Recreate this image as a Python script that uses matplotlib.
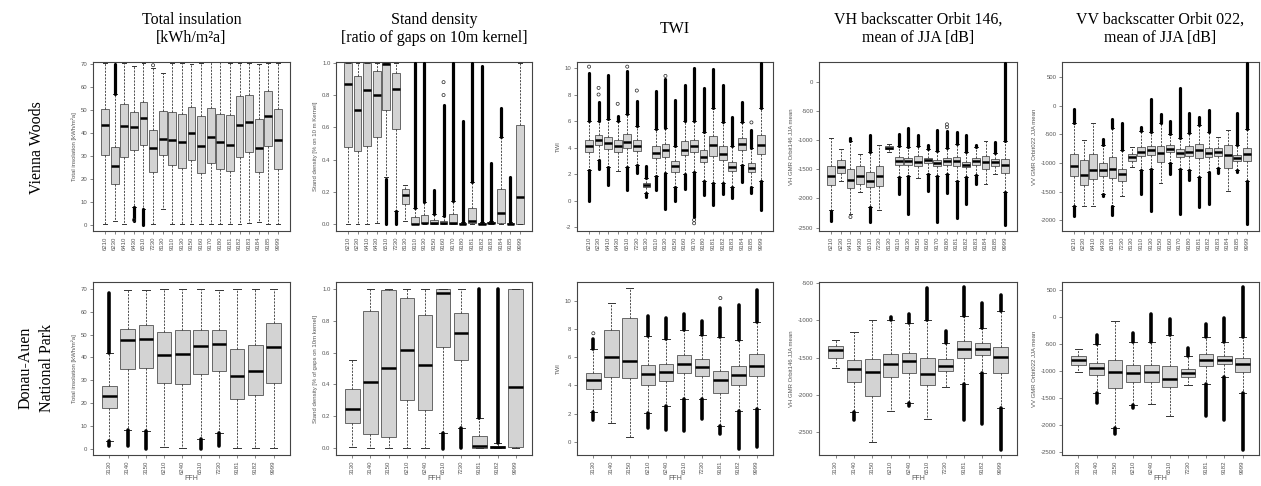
import matplotlib.pyplot as plt
import numpy as np

plt.rcParams["axes.unicode_minus"] = False

# habitat codes (FFH)
vw_codes = ["6210", "6230", "6410", "6430", "6510", "7230", "8130", "9110", "9130", "9150",
            "9160", "9170", "9180", "9181", "9182", "9183", "9184", "9185", "9999"]
dn_codes = ["3130", "3140", "3150", "6210", "6240", "6510", "7230", "9181", "9182", "9999"]

# box stats: (whisker low, q1, median, q3, whisker high)
# outlier runs: (box number, low, high), single outliers: (box number, value)
vw_insol = [(0.5, 30.7, 43.5, 50.7, 70.5), (2.0, 17.7, 25.9, 34.1, 57.0), (0.5, 29.5, 43.0, 52.5, 70.5),
            (8.0, 32.5, 42.5, 49.0, 69.0), (7.0, 35.0, 46.5, 53.5, 70.5), (0.5, 23.0, 33.5, 41.5, 68.5),
            (7.0, 30.5, 37.5, 49.5, 66.0), (0.5, 26.0, 37.0, 49.0, 70.5), (0.5, 25.0, 36.0, 48.5, 70.5),
            (0.5, 28.5, 40.0, 51.5, 70.0), (0.5, 22.5, 34.5, 47.5, 70.5), (0.5, 27.0, 38.5, 51.0, 71.0),
            (0.5, 24.5, 36.0, 48.5, 71.0), (0.5, 23.5, 35.0, 48.0, 70.5), (0.5, 29.5, 43.5, 56.0, 70.5),
            (1.0, 32.0, 45.0, 56.5, 70.5), (1.5, 23.0, 33.5, 46.0, 70.0), (0.5, 34.5, 47.5, 58.5, 70.5),
            (0.5, 24.5, 37.0, 50.5, 70.5)]
vw_insol_runs = [(2, 57.0, 70.0), (4, 2.0, 8.0), (5, 0.0, 7.0)]
vw_insol_pts = [(6, 69.5), (4, 2.3)]

vw_dens = [(0, 0.48, 0.87, 1.0, 1.0), (0, 0.455, 0.71, 0.92, 1.0), (0, 0.485, 0.83, 1.0, 1.0),
           (0.005, 0.54, 0.80, 0.95, 1.0), (0.29, 0.71, 0.99, 1.0, 1.0), (0.08, 0.59, 0.84, 0.935, 1.0),
           (0.02, 0.125, 0.18, 0.22, 0.24), (0, 0.0, 0.0, 0.045, 0.10), (0, 0.005, 0.005, 0.055, 0.135),
           (0, 0.0, 0.005, 0.025, 0.06), (0, 0.0, 0.005, 0.02, 0.05), (0, 0.0, 0.005, 0.06, 0.14),
           (0, 0.0, 0.0, 0.005, 0.01), (0, 0.005, 0.02, 0.10, 0.26), (0, 0.0, 0.0, 0.005, 0.01),
           (0, 0.005, 0.005, 0.01, 0.02), (0, 0.005, 0.07, 0.22, 0.54), (0, 0.0, 0.0, 0.005, 0.01),
           (0, 0.0, 0.165, 0.615, 1.0)]
vw_dens_runs = [(5, 0.0, 0.28), (6, 0.0, 0.08), (8, 0.10, 1.0), (9, 0.135, 1.0), (10, 0.06, 0.21),
                (11, 0.05, 0.74), (12, 0.14, 1.0), (13, 0.01, 0.64), (14, 0.26, 1.0), (15, 0.01, 0.98),
                (16, 0.02, 0.38), (17, 0.54, 0.72), (18, 0.01, 0.29)]
vw_dens_pts = [(11, 0.80), (11, 0.88)]

vw_twi = [(2.3, 3.65, 4.1, 4.6, 6.0), (3.05, 4.2, 4.55, 4.95, 6.0), (2.55, 3.9, 4.35, 4.8, 6.15),
          (2.25, 3.65, 4.15, 4.55, 6.0), (2.55, 4.0, 4.45, 5.05, 6.5), (2.7, 3.75, 4.1, 4.55, 5.6),
          (0.6, 1.0, 1.15, 1.3, 1.7), (1.9, 3.2, 3.6, 4.1, 5.4), (2.1, 3.3, 3.8, 4.3, 5.5),
          (1.0, 2.2, 2.6, 3.0, 4.1), (2.0, 3.45, 3.85, 4.5, 6.0), (2.2, 3.65, 4.1, 4.6, 6.0),
          (1.5, 2.95, 3.3, 3.8, 5.2), (1.3, 3.4, 4.2, 4.9, 7.0), (1.3, 3.05, 3.55, 4.1, 5.9),
          (1.0, 2.25, 2.55, 2.95, 4.1), (2.7, 3.85, 4.25, 4.7, 5.9), (1.0, 2.15, 2.45, 2.85, 3.95),
          (1.5, 3.55, 4.2, 4.95, 7.0)]
vw_twi_runs = [(1, 6.0, 9.6), (1, 0.0, 2.3), (2, 6.0, 7.4), (2, 2.4, 3.05), (3, 6.15, 9.5), (3, 1.15, 2.55),
               (4, 6.0, 6.4), (5, 6.5, 9.8), (5, 0.8, 2.55), (6, 5.6, 7.5), (6, 2.1, 2.7), (7, 1.7, 2.6),
               (7, 0.3, 0.6), (8, 5.4, 8.3), (8, 0.8, 1.9), (9, 5.5, 9.2), (9, -0.6, 2.1), (10, 4.1, 7.6),
               (10, 0.0, 1.0), (11, 6.0, 8.7), (11, 0.9, 2.0), (12, 6.0, 10.0), (12, -1.2, 2.2),
               (13, 5.2, 8.5), (13, 0.4, 1.5), (14, 7.0, 9.9), (14, -0.3, 1.3), (15, 5.9, 8.7),
               (15, 0.5, 1.3), (16, 4.1, 6.3), (16, 0.2, 1.0), (17, 5.9, 7.4), (17, 1.4, 2.7),
               (18, 3.95, 5.3), (18, 0.6, 1.0), (19, 7.0, 10.4), (19, -0.7, 1.5)]
vw_twi_pts = [(1, 10.1), (2, 8.0), (2, 8.5), (4, 7.3), (5, 10.1), (6, 8.3), (9, 9.4), (12, -1.45),
              (12, -1.7), (18, 5.9)]

vw_vh = [(-2200, -1770, -1620, -1450, -970), (-1700, -1560, -1460, -1340, -1150),
         (-2270, -1830, -1680, -1500, -1010), (-1890, -1760, -1620, -1450, -1240),
         (-2150, -1800, -1700, -1550, -1200), (-2200, -1790, -1620, -1450, -1090),
         (-1210, -1160, -1130, -1110, -1070), (-1630, -1430, -1360, -1290, -1100),
         (-1610, -1420, -1360, -1310, -1120), (-1650, -1440, -1380, -1280, -1100),
         (-1590, -1400, -1350, -1300, -1150), (-1610, -1450, -1400, -1350, -1180),
         (-1590, -1420, -1360, -1300, -1140), (-1700, -1450, -1360, -1290, -1060),
         (-1640, -1460, -1420, -1370, -1200), (-1600, -1430, -1360, -1300, -1120),
         (-1750, -1500, -1370, -1280, -1010), (-1590, -1440, -1380, -1330, -1230),
         (-1890, -1560, -1430, -1330, -1020)]
vw_vh_runs = [(1, -2380, -2220), (3, -1010, -960), (5, -2400, -2150), (5, -1200, -920), (8, -1920, -1630),
              (8, -1100, -900), (9, -2260, -1610), (9, -1120, -790), (10, -1100, -920), (11, -1880, -1590),
              (11, -1150, -1090), (12, -2400, -1610), (12, -1180, -830), (13, -1910, -1590),
              (13, -1140, -850), (14, -2330, -1700), (14, -1060, -860), (15, -2100, -1640),
              (15, -1200, -910), (16, -1760, -1600), (16, -1120, -1090), (18, -1230, -1040),
              (19, -2450, -1890), (19, -1020, 330)]
vw_vh_pts = [(3, -2320), (13, -730), (13, -780)]

vw_vv = [(-1750, -1230, -1050, -840, -300), (-1750, -1390, -1210, -940, -590),
         (-1750, -1280, -1120, -850, -300), (-1530, -1220, -1120, -1000, -680),
         (-1740, -1260, -1110, -900, -390), (-1580, -1310, -1190, -1100, -780),
         (-1060, -960, -900, -850, -720), (-1120, -880, -800, -720, -450),
         (-1100, -860, -780, -710, -460), (-1350, -980, -830, -710, -300),
         (-1000, -800, -750, -680, -490), (-1100, -900, -830, -760, -560),
         (-1120, -870, -800, -700, -470), (-1240, -920, -780, -660, -330),
         (-1160, -900, -820, -730, -460), (-1080, -880, -800, -730, -540),
         (-1490, -1080, -860, -690, -430), (-1120, -960, -910, -860, -690),
         (-1310, -970, -840, -740, -400)]
vw_vv_runs = [(1, -1920, -1750), (1, -300, -50), (4, -1580, -1530), (4, -680, -580), (5, -1900, -1740),
              (5, -390, -240), (6, -780, -300), (8, -1540, -1120), (8, -450, -370), (9, -1830, -1100),
              (9, -460, 120), (10, -300, -140), (11, -1190, -1000), (11, -490, -260), (12, -1880, -1100),
              (12, -560, 300), (13, -1290, -1120), (13, -470, -120), (14, -1760, -1240), (14, -330, -190),
              (15, -1720, -1160), (15, -460, -80), (16, -1180, -1080), (18, -1150, -1120),
              (18, -690, -120), (19, -2060, -1310), (19, -400, 740)]
vw_vv_pts = []

dn_insol = [(3.5, 18.0, 23.0, 27.7, 42.0), (8.5, 35.0, 47.5, 52.5, 69.5), (8.0, 35.5, 48.0, 54.0, 69.5),
            (1.0, 29.0, 41.0, 51.0, 70.0), (0.5, 28.5, 41.5, 52.0, 70.0), (4.5, 33.0, 45.0, 52.0, 70.0),
            (7.0, 34.0, 46.0, 52.0, 69.5), (0.5, 22.0, 32.0, 43.5, 70.0), (0.5, 23.5, 34.0, 45.5, 70.0),
            (0.5, 29.0, 44.5, 55.0, 70.0)]
dn_insol_runs = [(1, 42.0, 68.0), (1, 1.5, 3.5), (2, 1.5, 8.5), (3, 0.0, 8.0), (6, 0.0, 4.5), (7, 1.5, 7.0)]
dn_insol_pts = []

dn_dens = [(0.01, 0.16, 0.245, 0.37, 0.555), (0, 0.09, 0.415, 0.86, 1.0), (0, 0.07, 0.505, 0.995, 1.0),
           (0, 0.305, 0.615, 0.94, 1.0), (0, 0.24, 0.525, 0.835, 1.0), (0.095, 0.635, 0.97, 1.0, 1.0),
           (0.13, 0.555, 0.72, 0.85, 1.0), (0, 0.0, 0.015, 0.075, 0.19), (0, 0.0, 0.005, 0.015, 0.035),
           (0, 0.01, 0.385, 1.0, 1.0)]
dn_dens_runs = [(6, -0.005, 0.095), (7, 0.0, 0.13), (8, 0.19, 1.0), (9, 0.035, 1.0)]
dn_dens_pts = []

dn_twi = [(2.1, 3.75, 4.4, 4.9, 6.55), (1.35, 4.6, 6.0, 7.95, 9.85), (0.35, 4.55, 5.7, 8.75, 10.9),
          (2.05, 4.05, 4.8, 5.45, 7.5), (2.55, 4.3, 4.95, 5.55, 7.3), (3.05, 4.85, 5.55, 6.15, 7.95),
          (3.0, 4.7, 5.3, 5.85, 7.6), (1.15, 3.45, 4.35, 5.05, 7.45), (2.15, 4.05, 4.75, 5.4, 7.25),
          (2.35, 4.7, 5.4, 6.25, 8.5)]
dn_twi_runs = [(1, 6.55, 7.3), (1, 1.55, 2.1), (4, 7.5, 8.9), (4, 1.0, 2.05), (5, 7.3, 8.8), (5, 0.85, 2.55),
               (6, 7.95, 9.1), (6, 0.75, 3.05), (7, 7.6, 8.6), (7, 1.65, 3.0), (8, 7.45, 9.5),
               (8, 0.55, 1.15), (9, 7.25, 9.7), (9, -0.5, 2.15), (10, 8.5, 10.8), (10, -0.4, 2.35)]
dn_twi_pts = [(1, 7.7), (8, 10.2)]

dn_vh = [(-1640, -1510, -1400, -1340, -1260), (-2230, -1830, -1650, -1530, -1150),
         (-2630, -2010, -1690, -1520, -1000), (-2220, -1760, -1580, -1450, -990),
         (-2110, -1710, -1540, -1440, -1030), (-2320, -1860, -1720, -1500, -990),
         (-1890, -1680, -1610, -1520, -1300), (-1850, -1510, -1380, -1280, -940),
         (-1700, -1470, -1390, -1310, -1100), (-2170, -1700, -1490, -1360, -880)]
dn_vh_runs = [(2, -2330, -2230), (4, -990, -960), (5, -2150, -2110), (5, -1030, -910), (6, -990, -570),
              (7, -1300, -1140), (8, -2340, -1850), (8, -940, -560), (9, -2390, -1700), (9, -1100, -770),
              (10, -2730, -2170), (10, -880, -660)]
dn_vh_pts = []

dn_vv = [(-1020, -880, -790, -710, -580), (-1400, -1060, -930, -840, -500),
         (-2050, -1310, -1010, -800, -70), (-1630, -1200, -1030, -880, -450),
         (-1610, -1200, -1010, -880, -450), (-1830, -1290, -1140, -900, -330),
         (-1250, -1110, -1040, -950, -720), (-1230, -910, -790, -680, -360),
         (-1100, -860, -790, -710, -460), (-1400, -1010, -860, -750, -360)]
dn_vv_runs = [(2, -1590, -1400), (2, -500, -320), (3, -2170, -2050), (4, -1680, -1630), (4, -450, -290),
              (5, -450, 60), (6, -330, -40), (7, -720, -570), (8, -1820, -1230), (8, -360, -120),
              (9, -1900, -1100), (9, -460, -10), (10, -2460, -1400), (10, -360, 560)]
dn_vv_pts = []

col_titles = ["Total insulation\n[kWh/m\u00b2a]", "Stand density\n[ratio of gaps on 10m kernel]", "TWI",
              "VH backscatter Orbit 146,\nmean of JJA [dB]", "VV backscatter Orbit 022,\nmean of JJA [dB]"]
row_titles = ["Vienna Woods", "Donau-Auen\nNational Park"]
vw_ylabels = ["Total insolation [kWh/m\u00b2a]", "Stand density [% on 10 m Kernel]", "TWI",
              "VH GMR Orbit146 JJA mean", "VV GMR Orbit022 JJA mean"]
dn_ylabels = ["Total insolation [kWh/m\u00b2a]", "Stand density [% of gaps on 10m kernel]", "TWI",
              "VH GMR Orbit146 JJA mean", "VV GMR Orbit022 JJA mean"]

W, H = 1261, 486
col_left = [93, 336, 577, 819, 1062]
col_width = [197, 196, 196, 198, 197]
row_top = [62, 282]
row_bottom = [231, 455]

TICK_FONT = "Liberation Sans"
GRAY = "#555555"


def draw_panel(ax, codes, stats, runs, pts, ylim, yticks, ylabel, yfmt="%g", xlabel=None, run_lw=2.6):
    n = len(codes)
    bstats = [dict(whislo=s[0], q1=s[1], med=s[2], q3=s[3], whishi=s[4], fliers=[], label=c)
              for c, s in zip(codes, stats)]
    ax.bxp(bstats, positions=np.arange(1, n + 1), widths=0.8, patch_artist=True, showfliers=False,
           capwidths=0.4,
           boxprops=dict(facecolor="#d3d3d3", edgecolor="#666666", linewidth=0.7),
           medianprops=dict(color="black", linewidth=1.8, solid_capstyle="butt"),
           whiskerprops=dict(color="#333333", linewidth=0.6, linestyle=(0, (2.5, 1.5))),
           capprops=dict(color="#333333", linewidth=0.7))
    if runs:
        rx = [r[0] for r in runs]
        ax.vlines(rx, [r[1] for r in runs], [r[2] for r in runs], color="black",
                  linewidth=run_lw, capstyle="round", zorder=3)
    if pts:
        ax.scatter([p[0] for p in pts], [p[1] for p in pts], s=5, facecolors="none",
                   edgecolors="#222222", linewidths=0.5, zorder=3)
    ax.set_xlim(0.5 - 0.04 * n, n + 0.5 + 0.04 * n)
    ax.set_ylim(*ylim)
    ax.set_xticks(np.arange(1, n + 1))
    ax.set_xticklabels(codes, rotation=90, fontsize=4.3, family=TICK_FONT, color=GRAY)
    ax.set_yticks(yticks)
    ax.set_yticklabels([yfmt % t for t in yticks], fontsize=4.3, family=TICK_FONT, color=GRAY)
    ax.tick_params(length=2, width=0.5, colors=GRAY, pad=2)
    ax.set_ylabel(ylabel, fontsize=4.3, family=TICK_FONT, color=GRAY, labelpad=3)
    if xlabel:
        ax.set_xlabel(xlabel, fontsize=5, family=TICK_FONT, color=GRAY, labelpad=1)
    for sp in ax.spines.values():
        sp.set_color("#444444")
        sp.set_linewidth(0.8)


fig = plt.figure(figsize=(W / 100, H / 100), dpi=100)


def add_ax(r, c):
    return fig.add_axes([col_left[c] / W, 1 - row_bottom[r] / H,
                         col_width[c] / W, (row_bottom[r] - row_top[r]) / H])


vw_data = [(vw_insol, vw_insol_runs, vw_insol_pts, (-2.5, 70.9), np.arange(0, 71, 10), "%g"),
           (vw_dens, vw_dens_runs, vw_dens_pts, (-0.043, 1.005), np.arange(0, 1.01, 0.2), "%.1f"),
           (vw_twi, vw_twi_runs, vw_twi_pts, (-2.28, 10.45), np.arange(-2, 11, 2), "%g"),
           (vw_vh, vw_vh_runs, vw_vh_pts, (-2560, 340), np.arange(-2500, 1, 500), "%g"),
           (vw_vv, vw_vv_runs, vw_vv_pts, (-2183, 760), np.arange(-2000, 501, 500), "%g")]
dn_data = [(dn_insol, dn_insol_runs, dn_insol_pts, (-2.5, 72.9), np.arange(0, 71, 10), "%g"),
           (dn_dens, dn_dens_runs, dn_dens_pts, (-0.042, 1.042), np.arange(0, 1.01, 0.2), "%.1f"),
           (dn_twi, dn_twi_runs, dn_twi_pts, (-0.94, 11.34), np.arange(0, 11, 2), "%g"),
           (dn_vh, dn_vh_runs, dn_vh_pts, (-2803, -487), np.arange(-2500, -499, 500), "%g"),
           (dn_vv, dn_vv_runs, dn_vv_pts, (-2550, 653), np.arange(-2500, 501, 500), "%g")]

for c in range(5):
    st, ru, pt, yl, yt, fmt = vw_data[c]
    draw_panel(add_ax(0, c), vw_codes, st, ru, pt, yl, yt, vw_ylabels[c], fmt, run_lw=2.3)
    st, ru, pt, yl, yt, fmt = dn_data[c]
    draw_panel(add_ax(1, c), dn_codes, st, ru, pt, yl, yt, dn_ylabels[c], fmt, xlabel="FFH")

    # column titles
    fig.text((col_left[c] + col_width[c] / 2) / W, 1 - 29 / H, col_titles[c], ha="center", va="center",
             fontsize=11.5, family="Liberation Serif", linespacing=1.25)

fig.text(37 / W, 1 - 148 / H, row_titles[0], rotation=90, ha="center", va="center",
         fontsize=11.5, family="Liberation Serif")
fig.text(36 / W, 1 - 368 / H, row_titles[1], rotation=90, ha="center", va="center",
         fontsize=11.5, family="Liberation Serif", linespacing=1.45)

fig.savefig("out.png", dpi=100)
